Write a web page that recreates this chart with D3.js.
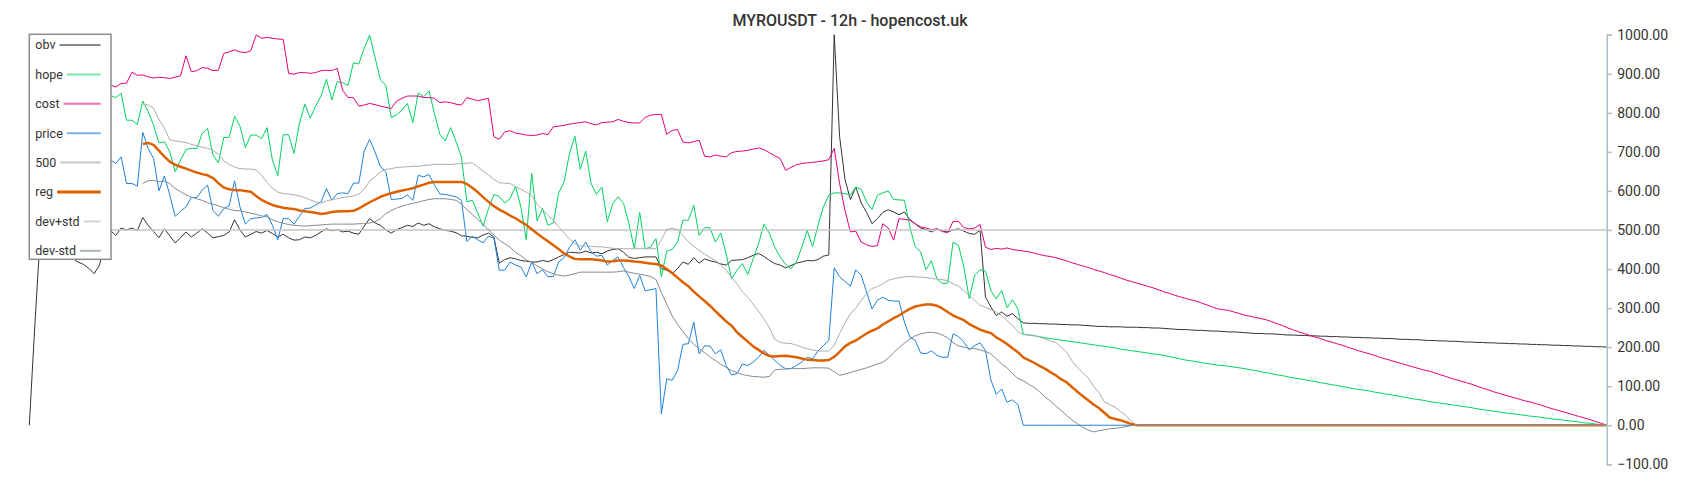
<!DOCTYPE html>
<html>
<head>
<meta charset="utf-8">
<script src="https://cdn.jsdelivr.net/npm/d3@7"></script>
<style>
  body { margin: 0; background: #fff; }
  svg { display: block; font-family: Roboto, sans-serif; }
</style>
</head>
<body>
<div id="chart"></div>
<script>
var obv = [
  0, 250, 480, 500, 470, 490, 475, 450, 428, 418, 412, 402, 388, 410, 470, 499, 486, 505, 500, 505,
  498, 532, 512, 496, 480, 503, 485, 467, 480, 495, 482, 492, 503, 492, 480, 483, 486, 495, 526, 500,
  482, 489, 496, 492, 499, 491, 482, 489, 480, 474, 475, 482, 480, 486, 495, 503, 498, 501, 495, 497,
  492, 489, 510, 529, 518, 512, 500, 492, 501, 506, 512, 509, 518, 512, 516, 508, 503, 499, 497, 493,
  485, 484, 481, 480, 487, 492, 482, 415, 424, 429, 426, 422, 420, 418, 418, 422, 419, 424, 431, 437,
  443, 442, 441, 446, 441, 443, 439, 446, 450, 452, 443, 430, 427, 429, 431, 431, 431, 401, 397, 388,
  401, 418, 412, 429, 415, 426, 421, 418, 413, 410, 422, 423, 424, 429, 435, 440, 432, 422, 414, 410,
  403, 409, 415, 418, 422, 421, 424, 433, 436, 1000, 739, 629, 578, 610, 569, 545, 516, 529, 545, 552,
  546, 539, 546, 527, 516, 505, 501, 495, 503, 498, 495, 500, 503, 497, 491, 489, 499, 328, 303, 281,
  290, 279, 286, 273, 262, 261, 261, 260, 260, 259, 259, 258, 258, 257, 257, 256, 255, 254, 253, 253,
  252, 252, 252, 251, 251, 251, 250, 250, 249, 249, 248, 247, 246, 245, 245, 244, 243, 243, 242, 241,
  241, 240, 239, 239, 238, 237, 236, 235, 235, 234, 234, 233, 232, 231, 231, 230, 230, 229, 229, 228,
  228, 227, 227, 226, 226, 225, 225, 224, 224, 223, 223, 222, 222, 221, 220, 220, 219, 219, 218, 217,
  217, 216, 216, 215, 215, 214, 213, 213, 212, 212, 211, 211, 210, 210, 209, 209, 208, 208, 207, 207,
  206, 206, 205, 205, 204, 204, 203, 203, 202, 202, 201, 201, 200
]

var hope = [
  860, 872, 850, 866, 880, 858, 846, 862, 870, 855, 840, 852, 866, 848, 838, 845, 839, 850, 781, 781,
  770, 830, 803, 768, 723, 726, 700, 649, 679, 706, 709, 708, 747, 760, 692, 672, 737, 737, 791, 766,
  711, 743, 743, 734, 762, 679, 639, 744, 744, 696, 773, 822, 786, 817, 843, 886, 833, 880, 877, 870,
  928, 925, 965, 999, 942, 884, 871, 788, 795, 807, 824, 775, 851, 841, 856, 798, 745, 728, 762, 726,
  687, 572, 576, 544, 510, 554, 591, 586, 569, 580, 612, 559, 475, 645, 523, 555, 512, 518, 595, 623,
  696, 740, 655, 702, 619, 591, 610, 521, 568, 585, 568, 516, 452, 545, 452, 456, 478, 380, 446, 450,
  469, 525, 525, 563, 486, 506, 506, 469, 492, 439, 375, 397, 414, 386, 426, 465, 515, 491, 456, 431,
  412, 401, 418, 456, 499, 457, 512, 559, 589, 595, 595, 593, 589, 610, 604, 572, 552, 589, 595, 600,
  578, 577, 576, 508, 457, 444, 398, 421, 375, 363, 364, 469, 461, 405, 324, 384, 398, 395, 345, 324,
  345, 301, 321, 298, 233, 231, 229, 227, 224, 222, 220, 218, 216, 214, 212, 210, 208, 206, 204, 202,
  200, 198, 195, 193, 191, 189, 187, 185, 183, 181, 179, 176, 173, 170, 167, 165, 163, 160, 158, 156,
  154, 153, 151, 149, 147, 145, 142, 140, 137, 135, 132, 129, 127, 124, 121, 119, 117, 114, 112, 109,
  107, 104, 102, 99, 97, 94, 92, 90, 88, 85, 83, 80, 78, 76, 73, 71, 68, 66, 64, 61,
  59, 57, 55, 53, 51, 49, 47, 45, 42, 40, 38, 36, 34, 32, 30, 29, 27, 25, 23, 22,
  20, 18, 16, 15, 13, 11, 10, 8, 6, 5, 3, 1, 0
]

var cost = [
  885, 880, 890, 884, 878, 882, 876, 880, 874, 878, 872, 870, 875, 868, 872, 871, 866, 875, 876, 904,
  896, 897, 892, 889, 891, 890, 888, 891, 895, 946, 905, 908, 916, 914, 908, 909, 952, 956, 961, 956,
  954, 959, 999, 991, 993, 991, 989, 988, 901, 899, 903, 903, 901, 903, 908, 909, 908, 914, 858, 839,
  839, 817, 820, 824, 821, 817, 814, 811, 830, 837, 843, 843, 843, 839, 839, 837, 826, 828, 826, 822,
  820, 839, 835, 831, 834, 837, 739, 732, 751, 754, 748, 746, 743, 742, 743, 747, 744, 764, 766, 768,
  771, 773, 775, 777, 772, 769, 775, 776, 777, 783, 778, 775, 774, 774, 788, 794, 796, 796, 745, 755,
  757, 725, 723, 726, 730, 689, 687, 692, 689, 687, 698, 701, 702, 704, 707, 710, 706, 698, 690, 683,
  653, 660, 667, 670, 672, 673, 675, 677, 680, 709, 619, 550, 495, 497, 469, 462, 458, 460, 516, 505,
  474, 529, 527, 525, 516, 508, 505, 501, 503, 496, 493, 522, 522, 506, 503, 505, 514, 456, 450, 453,
  451, 454, 450, 448, 446, 444, 441, 437, 434, 432, 429, 425, 421, 416, 412, 408, 404, 399, 395, 391,
  386, 382, 377, 372, 368, 364, 360, 356, 352, 347, 342, 338, 333, 329, 325, 321, 318, 313, 308, 303,
  298, 296, 294, 290, 286, 282, 279, 276, 273, 270, 265, 260, 255, 249, 244, 239, 235, 230, 226, 222,
  217, 213, 209, 205, 200, 196, 191, 187, 183, 179, 174, 170, 166, 162, 158, 154, 150, 146, 142, 139,
  135, 130, 126, 121, 117, 113, 109, 105, 100, 95, 91, 86, 82, 78, 74, 70, 66, 62, 59, 55,
  51, 46, 42, 38, 34, 30, 26, 22, 18, 14, 9, 5, 0
]

var price = [
  627, 640, 655, 648, 670, 662, 690, 676, 660, 672, 684, 668, 690, 676, 684, 680, 670, 687, 619, 619,
  612, 750, 709, 683, 600, 638, 590, 535, 548, 559, 583, 583, 602, 615, 550, 535, 555, 562, 626, 559,
  515, 529, 531, 532, 540, 512, 475, 529, 529, 515, 535, 555, 556, 564, 572, 606, 576, 593, 595, 593,
  620, 620, 702, 732, 700, 662, 649, 578, 579, 581, 590, 576, 640, 636, 642, 615, 592, 591, 588, 585,
  576, 470, 484, 475, 467, 484, 480, 397, 397, 418, 410, 405, 380, 418, 388, 398, 380, 381, 418, 429,
  456, 475, 448, 469, 444, 433, 435, 410, 422, 431, 404, 380, 350, 384, 344, 347, 350, 29, 119, 115,
  140, 207, 209, 264, 183, 203, 203, 183, 193, 153, 129, 132, 157, 153, 162, 174, 192, 179, 166, 153,
  145, 145, 153, 162, 174, 170, 190, 204, 217, 403, 380, 368, 356, 398, 384, 340, 298, 320, 328, 320,
  318, 318, 264, 226, 217, 185, 183, 191, 179, 174, 174, 234, 227, 213, 193, 204, 211, 191, 116, 79,
  93, 59, 65, 53, 0, 0, 0, 0, 0, 0, 0, 0, 0, 0, 0, 0, 0, 0, 0, 0,
  0, 0, 0, 0, 0, 0, 0, 0, 0, 0, 0, 0, 0, 0, 0, 0, 0, 0, 0, 0,
  0, 0, 0, 0, 0, 0, 0, 0, 0, 0, 0, 0, 0, 0, 0, 0, 0, 0, 0, 0,
  0, 0, 0, 0, 0, 0, 0, 0, 0, 0, 0, 0, 0, 0, 0, 0, 0, 0, 0, 0,
  0, 0, 0, 0, 0, 0, 0, 0, 0, 0, 0, 0, 0, 0, 0, 0, 0, 0, 0, 0,
  0, 0, 0, 0, 0, 0, 0, 0, 0, 0, 0, 0, 0
]

var reg = [
  null, null, null, null, null, null, null, null, null, null, null, null, null, null, null, null, null, null, null, null,
  null, 720, 723, 718, 703, 688, 675, 667, 662, 657, 652, 647, 643, 640, 633, 620, 609, 604, 602, 602,
  600, 598, 587, 577, 570, 564, 560, 557, 555, 554, 550, 548, 546, 544, 541, 543, 546, 547, 548, 548,
  549, 555, 563, 571, 578, 585, 590, 594, 598, 601, 604, 607, 612, 616, 621, 623, 623, 623, 623, 623,
  623, 618, 608, 597, 584, 572, 561, 552, 545, 537, 530, 521, 513, 502, 491, 481, 471, 461, 451, 440,
  432, 426, 425, 425, 425, 424, 422, 419, 420, 422, 422, 421, 419, 418, 416, 414, 413, 409, 400, 390,
  378, 366, 356, 342, 330, 318, 306, 292, 279, 266, 255, 238, 226, 214, 202, 193, 184, 177, 176, 177,
  178, 176, 174, 171, 168, 167, 166, 166, 167, 175, 188, 202, 211, 217, 226, 235, 242, 248, 258, 266,
  274, 281, 290, 298, 304, 307, 309, 309, 306, 299, 290, 281, 275, 269, 259, 252, 245, 240, 236, 225,
  217, 208, 197, 187, 174, 167, 160, 152, 145, 136, 128, 118, 110, 98, 86, 75, 64, 53, 44, 32,
  20, 16, 13, 8, 3, 0, 0, 0, 0, 0, 0, 0, 0, 0, 0, 0, 0, 0, 0, 0,
  0, 0, 0, 0, 0, 0, 0, 0, 0, 0, 0, 0, 0, 0, 0, 0, 0, 0, 0, 0,
  0, 0, 0, 0, 0, 0, 0, 0, 0, 0, 0, 0, 0, 0, 0, 0, 0, 0, 0, 0,
  0, 0, 0, 0, 0, 0, 0, 0, 0, 0, 0, 0, 0, 0, 0, 0, 0, 0, 0, 0,
  0, 0, 0, 0, 0, 0, 0, 0, 0, 0, 0, 0, 0
]

var devUp = [
  null, null, null, null, null, null, null, null, null, null, null, null, null, null, null, null, null, null, null, null,
  null, 822, 820, 812, 783, 761, 731, 728, 726, 724, 719, 716, 712, 709, 704, 694, 677, 668, 661, 657,
  656, 656, 654, 640, 622, 607, 597, 593, 592, 590, 587, 583, 577, 572, 569, 574, 578, 580, 583, 585,
  587, 592, 605, 625, 636, 649, 655, 657, 660, 661, 662, 663, 663, 665, 666, 668, 668, 668, 668, 669,
  670, 671, 672, 662, 651, 641, 630, 621, 620, 619, 611, 604, 597, 588, 566, 552, 538, 525, 508, 492,
  477, 465, 459, 459, 458, 457, 457, 455, 453, 452, 452, 452, 452, 452, 452, 452, 452, 475, 501, 505,
  501, 486, 470, 458, 448, 438, 430, 422, 410, 397, 378, 362, 342, 328, 310, 292, 272, 250, 220, 212,
  210, 209, 205, 200, 196, 193, 190, 190, 190, 205, 235, 262, 285, 300, 320, 337, 350, 355, 362, 371,
  375, 378, 380, 381, 380, 379, 378, 376, 374, 373, 370, 362, 356, 345, 332, 320, 307, 302, 296, 290,
  281, 268, 256, 240, 232, 231, 230, 226, 221, 216, 212, 200, 188, 165, 148, 134, 122, 100, 84, 60,
  53, 46, 35, 25, 10, 0, 0, 0, 0, 0, 0, 0, 0, 0, 0, 0, 0, 0, 0, 0,
  0, 0, 0, 0, 0, 0, 0, 0, 0, 0, 0, 0, 0, 0, 0, 0, 0, 0, 0, 0,
  0, 0, 0, 0, 0, 0, 0, 0, 0, 0, 0, 0, 0, 0, 0, 0, 0, 0, 0, 0,
  0, 0, 0, 0, 0, 0, 0, 0, 0, 0, 0, 0, 0, 0, 0, 0, 0, 0, 0, 0,
  0, 0, 0, 0, 0, 0, 0, 0, 0, 0, 0, 0, 0
]

var devDown = [
  null, null, null, null, null, null, null, null, null, null, null, null, null, null, null, null, null, null, null, null,
  null, 619, 626, 627, 623, 625, 619, 606, 598, 590, 584, 580, 576, 570, 566, 562, 557, 553, 550, 549,
  546, 543, 540, 536, 534, 526, 521, 517, 514, 512, 511, 510, 511, 512, 513, 514, 515, 515, 515, 515,
  515, 516, 516, 518, 521, 529, 542, 550, 556, 561, 565, 568, 571, 575, 578, 580, 580, 580, 578, 576,
  566, 552, 540, 527, 515, 500, 487, 474, 465, 456, 443, 434, 423, 417, 408, 400, 393, 388, 384, 382,
  385, 388, 392, 392, 392, 392, 392, 392, 392, 393, 395, 392, 389, 387, 384, 381, 373, 340, 310, 280,
  258, 240, 222, 207, 196, 186, 175, 166, 156, 148, 140, 135, 130, 127, 125, 124, 123, 125, 142, 143,
  144, 145, 145, 145, 146, 147, 147, 147, 146, 137, 128, 131, 135, 139, 143, 147, 152, 157, 161, 172,
  186, 199, 210, 221, 229, 234, 237, 238, 236, 231, 224, 212, 203, 200, 197, 196, 193, 189, 183, 170,
  157, 147, 132, 120, 114, 105, 97, 86, 73, 62, 50, 38, 25, 14, 4, -5, -12, -17, -14, -12,
  -9, -8, -6, -4, -1, 0, 0, 0, 0, 0, 0, 0, 0, 0, 0, 0, 0, 0, 0, 0,
  0, 0, 0, 0, 0, 0, 0, 0, 0, 0, 0, 0, 0, 0, 0, 0, 0, 0, 0, 0,
  0, 0, 0, 0, 0, 0, 0, 0, 0, 0, 0, 0, 0, 0, 0, 0, 0, 0, 0, 0,
  0, 0, 0, 0, 0, 0, 0, 0, 0, 0, 0, 0, 0, 0, 0, 0, 0, 0, 0, 0,
  0, 0, 0, 0, 0, 0, 0, 0, 0, 0, 0, 0, 0
]

var level500 = 500
var yTicks = [-100, 0, 100, 200, 300, 400, 500, 600, 700, 800, 900, 1000]
var legendLabels = ['obv', 'hope', 'cost', 'price', '500', 'reg', 'dev+std', 'dev-std']
var title = 'MYROUSDT - 12h - hopencost.uk'

var styles = {
  'obv':     {data: obv,     color: '#333333', swatch: '#8a8a8a', width: 1,   swWidth: 2},
  'hope':    {data: hope,    color: '#00d25f', swatch: '#7be6a6', width: 1,   swWidth: 2},
  'cost':    {data: cost,    color: '#e4007c', swatch: '#ee73b3', width: 1,   swWidth: 2},
  'price':   {data: price,   color: '#1f80dd', swatch: '#78b2ea', width: 1,   swWidth: 2},
  '500':     {data: null,    color: '#c6c6c6', swatch: '#c6c6c6', width: 1.5, swWidth: 2},
  'reg':     {data: reg,     color: '#dd6100', swatch: '#dd6100', width: 2.5, swWidth: 3},
  'dev+std': {data: devUp,   color: '#a8aeb3', swatch: '#d3d7da', width: 1,   swWidth: 2},
  'dev-std': {data: devDown, color: '#7d8d99', swatch: '#aab4ba', width: 1,   swWidth: 2}
}

var width = 1700, height = 500
var svg = d3.select('#chart')
            .append('svg')
            .attr('width', width)
            .attr('height', height)

var n = obv.length
var x = d3.scaleLinear().domain([0, n - 1]).range([29.3, 1606.7])
var y = d3.scaleLinear().domain([-100, 1000]).range([464.3, 34.7])

var line = d3.line()
             .defined(function(d) { return d != null })
             .x(function(d, i) { return x(i) })
             .y(function(d) { return y(d) })

var plot = svg.append('g')

legendLabels.forEach(function(key) {
  var s = styles[key]
  if (key === '500') {
    plot.append('line')
        .attr('x1', x(0))
        .attr('x2', x(n - 1))
        .attr('y1', y(level500))
        .attr('y2', y(level500))
        .attr('stroke', s.color)
        .attr('stroke-width', s.width)
    return
  }
  plot.append('path')
      .datum(s.data)
      .attr('fill', 'none')
      .attr('stroke', s.color)
      .attr('stroke-width', s.width)
      .attr('stroke-linejoin', 'round')
      .attr('d', line)
})

// right axis
var axis = d3.axisRight(y)
             .tickValues(yTicks)
             .tickFormat(d3.format('.2f'))
             .tickSize(5)
             .tickSizeOuter(5)
             .tickPadding(5.5)

var gAxis = svg.append('g')
               .attr('transform', 'translate(' + x(n - 1) + ',0)')
               .call(axis)
gAxis.select('.domain').attr('stroke', '#b0bec5').attr('stroke-width', 1.5)
gAxis.selectAll('.tick line').attr('stroke', '#b0bec5').attr('stroke-width', 1.5)
gAxis.selectAll('.tick text')
     .attr('fill', '#333')
     .style('font-family', 'Roboto, sans-serif')
     .style('font-size', '14px')

svg.append('text')
   .attr('x', 850)
   .attr('y', 26)
   .attr('text-anchor', 'middle')
   .attr('fill', '#333')
   .style('font-size', '16px')
   .style('font-weight', 500)
   .text(title)

// legend
var legend = svg.append('g')
legend.append('rect')
      .attr('x', 29.3)
      .attr('y', 34.3)
      .attr('width', 81.7)
      .attr('height', 225)
      .attr('fill', '#fff')
      .attr('stroke', '#8c8c8c')
      .attr('stroke-width', 1.5)

legendLabels.forEach(function(key, k) {
  var s = styles[key]
  var cy = 45 + k * 29.4
  var t = legend.append('text')
                .attr('x', 35.3)
                .attr('y', cy)
                .attr('dy', '0.35em')
                .attr('fill', '#333')
                .style('font-size', '12.5px')
                .text(key)
  var tw = t.node().getComputedTextLength()
  legend.append('line')
        .attr('x1', 35.3 + tw + 4)
        .attr('x2', 100.7)
        .attr('y1', cy)
        .attr('y2', cy)
        .attr('stroke', s.swatch)
        .attr('stroke-width', s.swWidth)
})
</script>
</body>
</html>
